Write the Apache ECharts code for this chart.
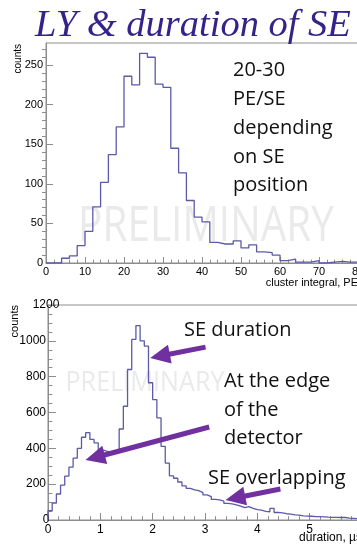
<!DOCTYPE html>
<html>
<head>
<meta charset="utf-8">
<title>LY &amp; duration of SE</title>
<script src="https://cdn.jsdelivr.net/npm/echarts@6/dist/echarts.min.js"></script>
<style>
  html, body { margin: 0; padding: 0; background: #ffffff; }
  #chart { width: 357px; height: 544px; }
</style>
</head>
<body>
<div id="chart"></div>
<script>
// Cluster integral histogram: 2 PE bins starting at 0
const peBinStart = 0;
const peBinWidth = 2;
const peCounts = [0, 0, 6, 9, 22, 40, 71, 102, 137, 172,
                  236, 225, 265, 260, 226, 222, 145, 114, 79, 58,
                  52, 26, 24, 24, 28, 19, 23, 14, 13, 10,
                  3, 5, 1, 1, 3, 0, 1, 2, 1, 1];

// SE duration histogram: 0.08 us bins starting at 0
const durBinStart = 0;
const durBinWidth = 0.08;
const durCounts = [52, 95, 145, 195, 245, 295, 345, 400, 462, 488,
                   450, 430, 392, 385, 380, 378, 382, 508, 635, 840,
                   1008, 1085, 1000, 971, 766, 672, 570, 411, 318, 246,
                   233, 212, 190, 177, 168, 164, 153, 140, 131, 115,
                   112, 106, 93, 90, 84, 78, 69, 75, 65, 58,
                   55, 48, 46, 65, 42, 40, 35, 33, 29, 27,
                   23, 22, 21, 19, 19, 18, 16, 15, 15, 14,
                   14, 10, 9, 8, 8];

// Axis ticks
const peTicksX = [0, 10, 20, 30, 40, 50, 60, 70, 80];
const peTicksY = [0, 50, 100, 150, 200, 250];
const peMinorY = [10, 20, 30, 40, 60, 70, 80, 90, 110, 120, 130, 140,
                  160, 170, 180, 190, 210, 220, 230, 240, 260, 270];
const durTicksX = [0, 1, 2, 3, 4, 5, 6];
const durTicksY = [0, 200, 400, 600, 800, 1000, 1200];

// Texts
const titleText = 'LY & duration of SE';
const peNote = ['20-30', 'PE/SE', 'depending', 'on SE', 'position'];
const durNotes = ['SE duration', 'At the edge\nof the\ndetector', 'SE overlapping'];
const watermark = 'PRELIMINARY';

// Arrows in duration-plot data coordinates: [tail, head]
const durArrows = [
  [[3.01, 965], [2.14, 915]],
  [[3.08, 519], [0.90, 349]],
  [[4.44, 173], [3.58, 123]]
];

// Outline of a histogram as a stepped polyline, rising from and returning to zero
function outline(start, width, counts) {
  const pts = [[start, 0]];
  counts.forEach((c, i) => pts.push([start + i * width, c]));
  const end = start + counts.length * width;
  pts.push([end, counts[counts.length - 1]]);
  pts.push([end, 0]);
  return pts;
}

const axisGrey = '#8d8d8d';
const histColor = '#5a5aa8';
const arrowColor = '#7030a0';
const labelFont = 'Liberation Sans';
const noteFont = 'Open Sans';
const plain = v => String(v);

function valueAxis(gridIndex, ticks, minorSplit, tickLen, fontSize, margin) {
  return {
    type: 'value', gridIndex,
    min: ticks[0], max: ticks[ticks.length - 1], interval: ticks[1] - ticks[0],
    axisLine: { show: true, onZero: false, lineStyle: { color: axisGrey, width: 1 } },
    axisTick: { show: true, inside: true, length: tickLen, lineStyle: { color: axisGrey } },
    minorTick: { show: true, splitNumber: minorSplit, length: tickLen * 0.55, lineStyle: { color: axisGrey } },
    axisLabel: {
      margin, fontSize, color: '#000', fontFamily: labelFont, formatter: plain,
      customValues: ticks, alignMinLabel: 'center', alignMaxLabel: 'center', hideOverlap: false
    },
    splitLine: { show: false },
    minorSplitLine: { show: false }
  };
}

const chart = echarts.init(document.getElementById('chart'), null, { renderer: 'canvas' });

chart.setOption({
  animation: false,
  textStyle: { fontFamily: labelFont },
  grid: [
    { left: 46, top: 43, width: 312, height: 220, show: true, borderColor: axisGrey, borderWidth: 1,
      backgroundColor: 'transparent', outerBoundsMode: 'none' },
    { left: 48, top: 305, width: 314, height: 215, show: true, borderColor: axisGrey, borderWidth: 1,
      backgroundColor: 'transparent', outerBoundsMode: 'none' }
  ],
  xAxis: [
    valueAxis(0, peTicksX, 5, 6, 11, 3),
    valueAxis(1, durTicksX, 5, 7, 12, 4)
  ],
  yAxis: [
    {
      type: 'value', gridIndex: 0, min: 0, max: 278,
      axisLine: { show: true, onZero: false, lineStyle: { color: axisGrey, width: 1 } },
      axisTick: { show: true, inside: true, length: 7, lineStyle: { color: axisGrey }, customValues: peTicksY },
      axisLabel: { margin: 3, fontSize: 11, color: '#000', fontFamily: labelFont, formatter: plain, customValues: peTicksY },
      splitLine: { show: false }
    },
    valueAxis(1, durTicksY, 4, 8, 12, 2),
    // minor ticks of the cluster-integral counts axis
    {
      type: 'value', gridIndex: 0, min: 0, max: 278,
      axisLine: { show: false },
      axisTick: { show: true, inside: true, length: 4, lineStyle: { color: axisGrey }, customValues: peMinorY },
      axisLabel: { show: false },
      splitLine: { show: false }
    }
  ],
  series: [
    {
      type: 'line', xAxisIndex: 0, yAxisIndex: 0, step: 'end',
      data: outline(peBinStart, peBinWidth, peCounts),
      showSymbol: false, symbol: 'none', silent: true,
      lineStyle: { color: histColor, width: 1.3 }
    },
    {
      type: 'line', xAxisIndex: 1, yAxisIndex: 1, step: 'end',
      data: outline(durBinStart, durBinWidth, durCounts),
      showSymbol: false, symbol: 'none', silent: true,
      lineStyle: { color: histColor, width: 1.3 },
      markLine: {
        silent: true,
        symbol: ['none', 'triangle'],
        symbolSize: [19, 20],
        label: { show: false },
        lineStyle: { color: arrowColor, width: 5, type: 'solid' },
        itemStyle: { color: arrowColor },
        emphasis: { disabled: true },
        data: durArrows.map(a => [{ coord: a[0] }, { coord: a[1] }])
      }
    }
  ],
  graphic: [
    // watermarks
    { type: 'text', x: 206, y: 227, scaleX: 0.81, z: 0, silent: true,
      style: { text: watermark, fontSize: 50, fontFamily: noteFont, fill: '#eaeaea', align: 'center', verticalAlign: 'middle' } },
    { type: 'text', x: 145, y: 383, scaleX: 0.9, z: 0, silent: true,
      style: { text: watermark, fontSize: 28, fontFamily: noteFont, fill: '#eaeaea', align: 'center', verticalAlign: 'middle' } },
    // title
    { type: 'text', x: 35, y: 26, z: 10, silent: true,
      style: { text: titleText, fontSize: 38.5, fontStyle: 'italic', fontFamily: 'Liberation Serif', fill: '#35238a', align: 'left', verticalAlign: 'middle' } },
    // axis titles
    { type: 'text', x: 18, y: 44, rotation: Math.PI / 2, z: 10, silent: true,
      style: { text: 'counts', fontSize: 10, fontFamily: labelFont, fill: '#000', align: 'right', verticalAlign: 'middle' } },
    { type: 'text', x: 358, y: 283, z: 10, silent: true,
      style: { text: 'cluster integral, PE', fontSize: 11, fontFamily: labelFont, fill: '#000', align: 'right', verticalAlign: 'middle' } },
    { type: 'text', x: 15, y: 305, rotation: Math.PI / 2, z: 10, silent: true,
      style: { text: 'counts', fontSize: 11, fontFamily: labelFont, fill: '#000', align: 'right', verticalAlign: 'middle' } },
    { type: 'text', x: 362, y: 538, z: 10, silent: true,
      style: { text: 'duration, \u00b5s', fontSize: 12, fontFamily: labelFont, fill: '#000', align: 'right', verticalAlign: 'middle' } },
    // notes
    { type: 'text', x: 233, y: 56, z: 10, silent: true,
      style: { text: peNote.join('\n'), fontSize: 20, lineHeight: 28.8, fontFamily: noteFont, fill: '#111', align: 'left', verticalAlign: 'top' } },
    { type: 'text', x: 184, y: 330, z: 10, silent: true,
      style: { text: durNotes[0], fontSize: 20, fontFamily: noteFont, fill: '#111', align: 'left', verticalAlign: 'middle' } },
    { type: 'text', x: 224, y: 367.5, z: 10, silent: true,
      style: { text: durNotes[1], fontSize: 20, lineHeight: 28.3, fontFamily: noteFont, fill: '#111', align: 'left', verticalAlign: 'top' } },
    { type: 'text', x: 208, y: 478, z: 10, silent: true,
      style: { text: durNotes[2], fontSize: 20, fontFamily: noteFont, fill: '#111', align: 'left', verticalAlign: 'middle' } }
  ]
});
</script>
</body>
</html>
